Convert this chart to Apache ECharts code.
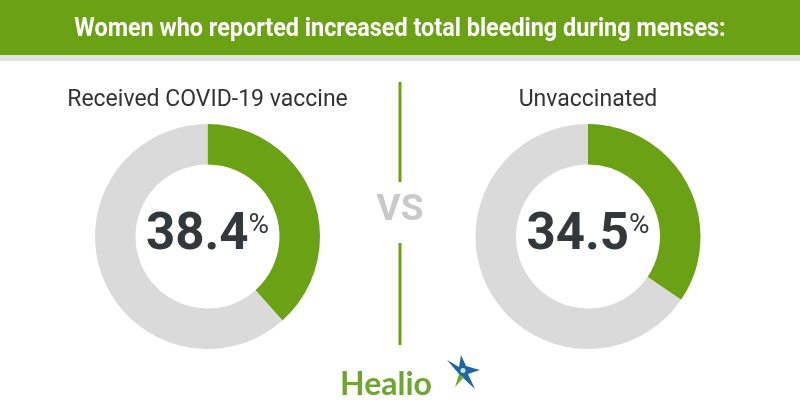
<!DOCTYPE html>
<html>
<head>
<meta charset="utf-8">
<script src="https://cdn.jsdelivr.net/npm/echarts@6/dist/echarts.min.js"></script>
<style>html,body{margin:0;padding:0;background:#fff}#c{width:800px;height:420px}</style>
</head>
<body>
<div id="c"></div>
<script>
const titleText = 'Women who reported increased total bleeding during menses:';
const groups = ['Received COVID-19 vaccine', 'Unvaccinated'];
const values = [38.4, 34.5];
const vsText = 'VS';
const brand = 'Healio';

const GREEN = '#6aa115';
const GREY = '#dadada';
const DARK = '#33383c';
const centersX = [207.5, 588];
const centerY = 236.5;

const chart = echarts.init(document.getElementById('c'), null, {renderer: 'canvas'});

const series = values.map((v, i) => ({
  type: 'pie',
  center: [centersX[i], centerY],
  radius: [72, 112.5],
  startAngle: 90,
  clockwise: true,
  silent: true,
  animation: false,
  labelLine: {show: false},
  data: [
    {value: v, name: groups[i], itemStyle: {color: GREEN},
     label: {show: true, position: 'center',
       formatter: p => '{n|' + p.value.toFixed(1) + '}{p|%}',
       rich: {
         n: {fontFamily: 'Roboto', fontWeight: 'bold', fontSize: 51, color: DARK, lineHeight: 50},
         p: {fontFamily: 'Roboto', fontWeight: 'normal', fontSize: 28, color: DARK, verticalAlign: 'top', lineHeight: 46}
       }}},
    {value: +(100 - v).toFixed(1), name: 'rest', itemStyle: {color: GREY}, label: {show: false}}
  ]
}));

const graphic = [
  {type: 'rect', shape: {x: 0, y: 0, width: 800, height: 55}, style: {fill: GREEN}},
  {type: 'rect', shape: {x: 0, y: 55, width: 800, height: 6}, style: {fill: '#e2e1e3'}},
  {type: 'text', x: 400, y: 29, scaleX: 0.9, style: {text: titleText, fill: '#fff', font: 'bold 26px Roboto', textAlign: 'center', textVerticalAlign: 'middle'}},
  {type: 'text', x: centersX[0], y: 100, style: {text: groups[0], fill: '#333', font: '23px Roboto', textAlign: 'center', textVerticalAlign: 'middle'}},
  {type: 'text', x: centersX[1], y: 100, style: {text: groups[1], fill: '#333', font: '23px Roboto', textAlign: 'center', textVerticalAlign: 'middle'}},
  {type: 'line', shape: {x1: 400, y1: 82, x2: 400, y2: 182}, style: {stroke: GREEN, lineWidth: 3}},
  {type: 'line', shape: {x1: 400, y1: 243, x2: 400, y2: 345}, style: {stroke: GREEN, lineWidth: 3}},
  {type: 'text', x: 400, y: 211, style: {text: vsText, fill: '#c9c9c9', font: 'bold 37px Roboto', textAlign: 'center', textVerticalAlign: 'middle'}},
  {type: 'text', x: 340, y: 385, style: {text: brand, fill: '#6ea534', font: 'bold 32px Lato', textAlign: 'left', textVerticalAlign: 'middle'}},
  {type: 'polygon', shape: {points: [[447, 360], [459, 367], [461, 355], [466, 366], [480, 370], [468, 374], [475, 389], [462, 377], [459, 374]]}, style: {fill: '#1f66a3'}},
  {type: 'circle', shape: {cx: 463, cy: 370.5, r: 2.5}, style: {fill: '#cfe3f2'}},
  {type: 'polygon', shape: {points: [[459, 374], [464, 377], [455, 387]]}, style: {fill: '#6ea534'}}
];

chart.setOption({
  backgroundColor: '#ffffff',
  animation: false,
  series: series,
  graphic: graphic
});
</script>
</body>
</html>
